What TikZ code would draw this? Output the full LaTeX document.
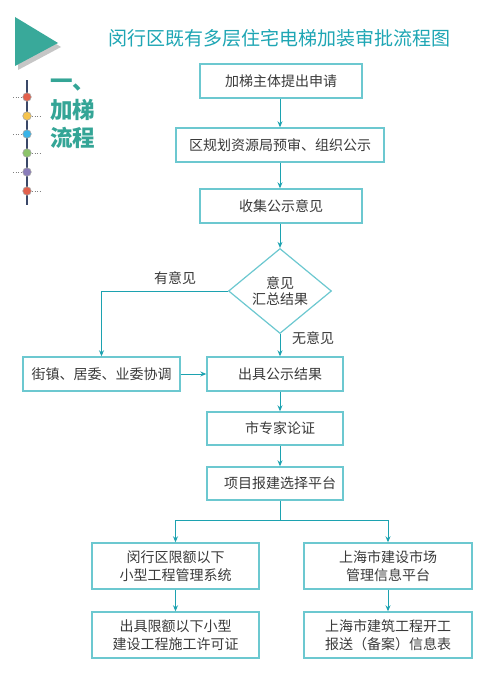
\documentclass[tikz,border=0pt]{standalone}
\usepackage{fontspec}
\setmainfont{Noto Sans CJK SC}
\usetikzlibrary{shapes.geometric,arrows.meta,calc}
\definecolor{boxline}{HTML}{6CC8D0}
\definecolor{arrline}{HTML}{1CA2B0}
\definecolor{titlec}{HTML}{1EA6B4}
\definecolor{headc}{HTML}{34A596}
\definecolor{trianc}{HTML}{39A99A}
\definecolor{txtc}{HTML}{3A3A3A}
\definecolor{navy}{HTML}{3A4868}
\definecolor{dred}{HTML}{E2604C}
\definecolor{dyel}{HTML}{F6C44E}
\definecolor{dblu}{HTML}{3AB4E8}
\definecolor{dgrn}{HTML}{8CC46A}
\definecolor{dpur}{HTML}{8A7DBA}
\begin{document}
\begin{tikzpicture}[x=1pt,y=-1pt,
  stepbox/.style={draw=boxline,line width=1.4pt,rectangle,inner sep=0pt,text=txtc,
    font=\fontsize{14}{18}\selectfont,align=center},
  decide/.style={draw=boxline,line width=1.2pt,diamond,inner sep=0pt,text=txtc,
    minimum width=103pt,minimum height=77pt,font=\fontsize{14}{16}\selectfont,align=center},
  arr/.style={draw=arrline,line width=1pt,-{Stealth[length=6pt,width=5pt]}},
  ln/.style={draw=arrline,line width=1pt},
  lbl/.style={text=txtc,font=\fontsize{14}{16}\selectfont,inner sep=0pt},
  dotc/.style={draw=gray!70,line width=0.6pt,circle,minimum size=8.5pt,inner sep=0pt},
  tick/.style={draw=gray,line width=0.9pt,dash pattern=on 1.2pt off 1.3pt}
]
\useasboundingbox (0,0) rectangle (485,693);
\fill[white] (0,0) rectangle (485,693);
% triangle with shadow
\fill[gray!45] (18,21) -- (18,70) -- (61,47) -- cycle;
\fill[trianc] (15,17) -- (15,66) -- (58,43) -- cycle;
% title
\node[text=titlec,font=\fontsize{19}{22}\selectfont,inner sep=0pt] (title) at (279.5,38) {闵行区既有多层住宅电梯加装审批流程图};
% side heading
\node[text=headc,font=\fontsize{22.5}{28}\selectfont\bfseries,inner sep=0pt,anchor=west] (h1) at (50,85) {一、};
\node[text=headc,font=\fontsize{22.5}{28}\selectfont\bfseries,inner sep=0pt,anchor=west] (h2) at (50,110) {加梯};
\node[text=headc,font=\fontsize{22.5}{28}\selectfont\bfseries,inner sep=0pt,anchor=west] (h3) at (50,138) {流程};
% timeline
\draw[navy,line width=1.6pt] (27,80) -- (27,205);
\draw[tick] (13,97) -- (22,97);
\draw[tick] (32,116) -- (40,116);
\draw[tick] (13,134) -- (22,134);
\draw[tick] (32,153) -- (40,153);
\draw[tick] (13,172) -- (22,172);
\draw[tick] (32,191) -- (40,191);
\node[dotc,fill=dred] (t1) at (27,97) {};
\node[dotc,fill=dyel] (t2) at (27,116) {};
\node[dotc,fill=dblu] (t3) at (27,134) {};
\node[dotc,fill=dgrn] (t4) at (27,153) {};
\node[dotc,fill=dpur] (t5) at (27,172) {};
\node[dotc,fill=dred] (t6) at (27,191) {};
% boxes
\node[stepbox,minimum width=162pt,minimum height=34pt] (b1) at (281,81) {加梯主体提出申请};
\node[stepbox,minimum width=208pt,minimum height=34pt] (b2) at (280,145) {区规划资源局预审、组织公示};
\node[stepbox,minimum width=162pt,minimum height=34pt] (b3) at (281,206) {收集公示意见};
\node[decide] (d) at (280,291) {意见\\汇总结果};
\node[stepbox,minimum width=157pt,minimum height=34pt] (jz) at (101.5,374) {街镇、居委、业委协调};
\node[stepbox,minimum width=136pt,minimum height=34pt] (out) at (275,374) {\hspace*{10pt}出具公示结果};
\node[stepbox,minimum width=136pt,minimum height=33pt] (exp) at (275,428.5) {\hspace*{10pt}市专家论证};
\node[stepbox,minimum width=136pt,minimum height=33pt] (proj) at (275,483.5) {\hspace*{10pt}项目报建选择平台};
\node[stepbox,minimum width=167pt,minimum height=46pt] (l1) at (175.5,566) {闵行区限额以下\\小型工程管理系统};
\node[stepbox,minimum width=168pt,minimum height=46pt] (r1) at (388,566) {上海市建设市场\\管理信息平台};
\node[stepbox,minimum width=167pt,minimum height=46pt] (l2) at (175.5,635) {出具限额以下小型\\建设工程施工许可证};
\node[stepbox,minimum width=168pt,minimum height=46pt] (r2) at (388,635) {上海市建筑工程开工\\报送（备案）信息表};
% labels
\node[lbl] (yes) at (175,278) {有意见};
\node[lbl] (no) at (313,338) {无意见};
% connectors
\coordinate (ax) at (280,0);
\coordinate (split) at (280,520);
\draw[arr] (ax |- b1.south) -- (ax |- b2.north);
\draw[arr] (ax |- b2.south) -- (ax |- b3.north);
\draw[arr] (ax |- b3.south) -- (d.north);
\draw[arr] (d.west) -| (jz.north);
\draw[arr] (d.south) -- (ax |- out.north);
\draw[arr] (jz.east) -- (out.west);
\draw[arr] (ax |- out.south) -- (ax |- exp.north);
\draw[arr] (ax |- exp.south) -- (ax |- proj.north);
\draw[ln] (ax |- proj.south) -- (split);
\draw[arr] (split) -| (l1.north);
\draw[arr] (split) -| (r1.north);
\draw[arr] (l1.south) -- (l2.north);
\draw[arr] (r1.south) -- (r2.north);
\end{tikzpicture}
\end{document}
